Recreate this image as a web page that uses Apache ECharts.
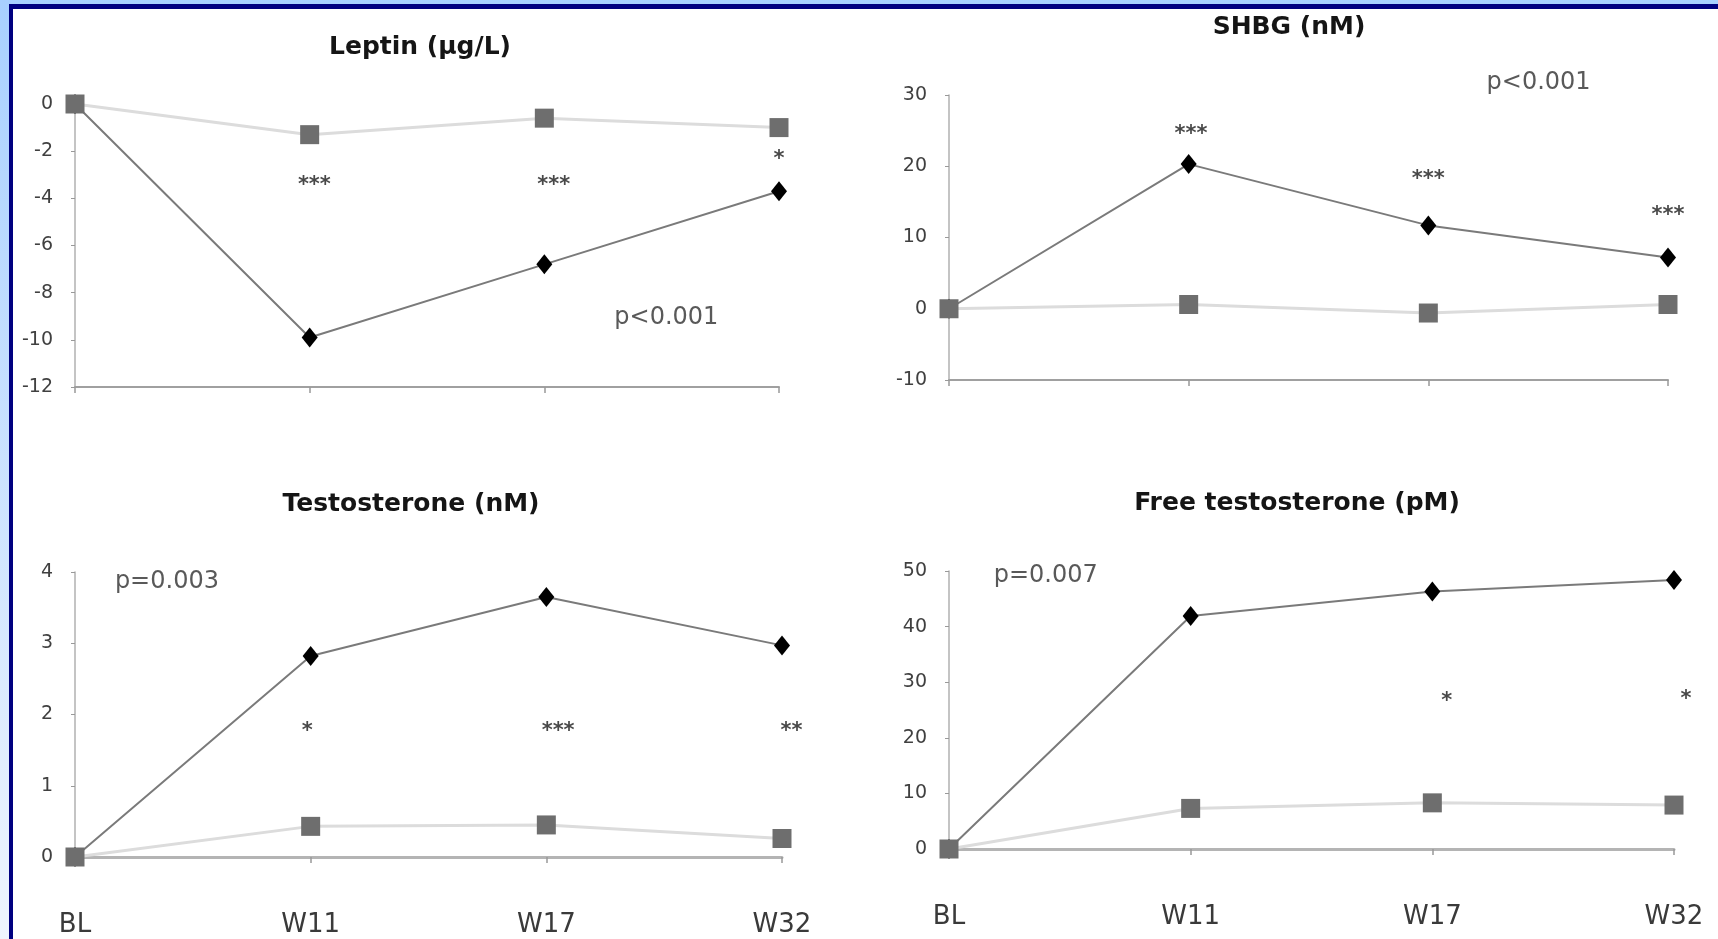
<!DOCTYPE html>
<html>
<head>
<meta charset="utf-8">
<script src="https://cdn.jsdelivr.net/npm/echarts@6/dist/echarts.min.js"></script>
<style>
  body { margin: 0; overflow: hidden; }
  #back { position: absolute; left: 0; top: 0; width: 1718px; height: 939px;
          background: linear-gradient(#a8d0ff, #eef5fe); }
  #sheet { position: absolute; left: 9px; top: 4px; right: 0; bottom: 0;
           border-top: 5px solid #000080; border-left: 4px solid #000080; background: #fff; }
  #chart { position: absolute; left: 0; top: 0; width: 1718px; height: 939px; }
</style>
</head>
<body>
<div id="back"><div id="sheet"></div></div>
<div id="chart"></div>
<script>
/// data

const categories = ['BL', 'W11', 'W17', 'W32']

const leptinTreat = [0, -9.9, -6.8, -3.7]
const leptinCtrl = [0, -1.3, -0.6, -1.0]
const shbgTreat = [0, 20.3, 11.7, 7.2]
const shbgCtrl = [0, 0.6, -0.6, 0.6]
const testoTreat = [0, 2.82, 3.65, 2.97]
const testoCtrl = [0, 0.43, 0.45, 0.26]
const freeTreat = [0, 41.9, 46.3, 48.4]
const freeCtrl = [0, 7.3, 8.3, 7.9]

// [position along the weeks, value, text]
const leptinNotes = [[1.02, -3.25, '***'], [2.04, -3.25, '***'], [3.0, -2.15, '*'], [2.52, -9.07, 'p<0.001']]
const shbgNotes = [[1.01, 25.2, '***'], [2.0, 18.8, '***'], [3.0, 13.8, '***'], [2.46, 31.7, 'p<0.001']]
const testoNotes = [[0.985, 1.83, '*'], [2.05, 1.83, '***'], [3.04, 1.83, '**'], [0.39, 3.86, 'p=0.003']]
const freeNotes = [[2.06, 27.4, '*'], [3.05, 27.8, '*'], [0.4, 49.2, 'p=0.007']]

const panels = [
  { title: 'Leptin (\u00b5g/L)', tx: 420, ty: 47, treat: leptinTreat, ctrl: leptinCtrl, notes: leptinNotes,
    min: -12, max: 0, step: 2, grid: { left: 75, top: 104, width: 704, height: 283 }, xLabels: false },
  { title: 'SHBG (nM)', tx: 1289, ty: 27, treat: shbgTreat, ctrl: shbgCtrl, notes: shbgNotes,
    min: -10, max: 30, step: 10, grid: { left: 949, top: 95, width: 719, height: 285 }, xLabels: false },
  { title: 'Testosterone (nM)', tx: 411, ty: 504, treat: testoTreat, ctrl: testoCtrl, notes: testoNotes,
    min: 0, max: 4, step: 1, grid: { left: 75, top: 572, width: 707, height: 285 }, xLabels: true },
  { title: 'Free testosterone (pM)', tx: 1297, ty: 503, treat: freeTreat, ctrl: freeCtrl, notes: freeNotes,
    min: 0, max: 50, step: 10, grid: { left: 949, top: 571, width: 725, height: 278 }, xLabels: true }
]

const FONT = 'DejaVu Sans'
const pairs = arr => arr.map((v, i) => [i, v])

/// options

const option = {
  animation: false,
  title: panels.map(p => ({
    text: p.title, left: p.tx, top: p.ty, padding: 0,
    textAlign: 'center', textVerticalAlign: 'middle',
    textStyle: { fontFamily: FONT, fontWeight: 'bold', fontSize: 25, color: '#151515' }
  })),
  grid: panels.map(p => Object.assign({ containLabel: false }, p.grid)),
  xAxis: panels.map((p, i) => ({
    type: 'value', gridIndex: i, min: 0, max: 3, interval: 1,
    axisLine: { onZero: false, lineStyle: { color: p.xLabels ? '#b4b4b4' : '#a0a0a0', width: p.xLabels ? 3 : 2 } },
    axisTick: { show: true, length: 6, lineStyle: { color: '#999', width: 1.5 } },
    splitLine: { show: false },
    axisLabel: {
      show: p.xLabels, margin: 55, fontFamily: FONT, fontSize: 26, color: '#3a3a3a',
      formatter: v => categories[v]
    }
  })),
  yAxis: panels.map((p, i) => ({
    type: 'value', gridIndex: i, min: p.min, max: p.max, interval: p.step,
    axisLine: { show: true, onZero: false, lineStyle: { color: '#b0b0b0', width: 1.5 } },
    axisTick: { show: true, length: 4, lineStyle: { color: '#999' } },
    splitLine: { show: false },
    axisLabel: { margin: 22, fontFamily: FONT, fontSize: 19, color: '#404040' }
  })),
  series: []
}

panels.forEach((p, i) => {
  option.series.push({
    type: 'line', xAxisIndex: i, yAxisIndex: i, data: pairs(p.treat),
    symbol: 'diamond', symbolSize: [16, 20],
    lineStyle: { color: '#7a7a7a', width: 2 },
    itemStyle: { color: '#000' }, z: 3
  })
  option.series.push({
    type: 'line', xAxisIndex: i, yAxisIndex: i, data: pairs(p.ctrl),
    symbol: 'rect', symbolSize: 19,
    lineStyle: { color: '#dcdcdc', width: 3 },
    itemStyle: { color: '#6e6e6e' }, z: 4
  })
  // stars and p-values, placed on the panel's own scales
  option.series.push({
    type: 'scatter', xAxisIndex: i, yAxisIndex: i, clip: false, silent: true,
    symbolSize: 1, itemStyle: { color: 'rgba(0,0,0,0)' },
    data: p.notes.map(d => {
      const isP = d[2].charAt(0) === 'p'
      return {
        value: d,
        label: isP
          ? { fontSize: 24, color: '#303030' }
          : { fontSize: 21, fontWeight: 'bold', color: '#1a1a1a', offset: [0, 5] }
      }
    }),
    label: { show: true, position: 'inside', fontFamily: FONT, formatter: d => d.value[2] },
    z: 5
  })
})

const chart = echarts.init(document.getElementById('chart'), null, { renderer: 'canvas' })
chart.setOption(option)
</script>
</body>
</html>
